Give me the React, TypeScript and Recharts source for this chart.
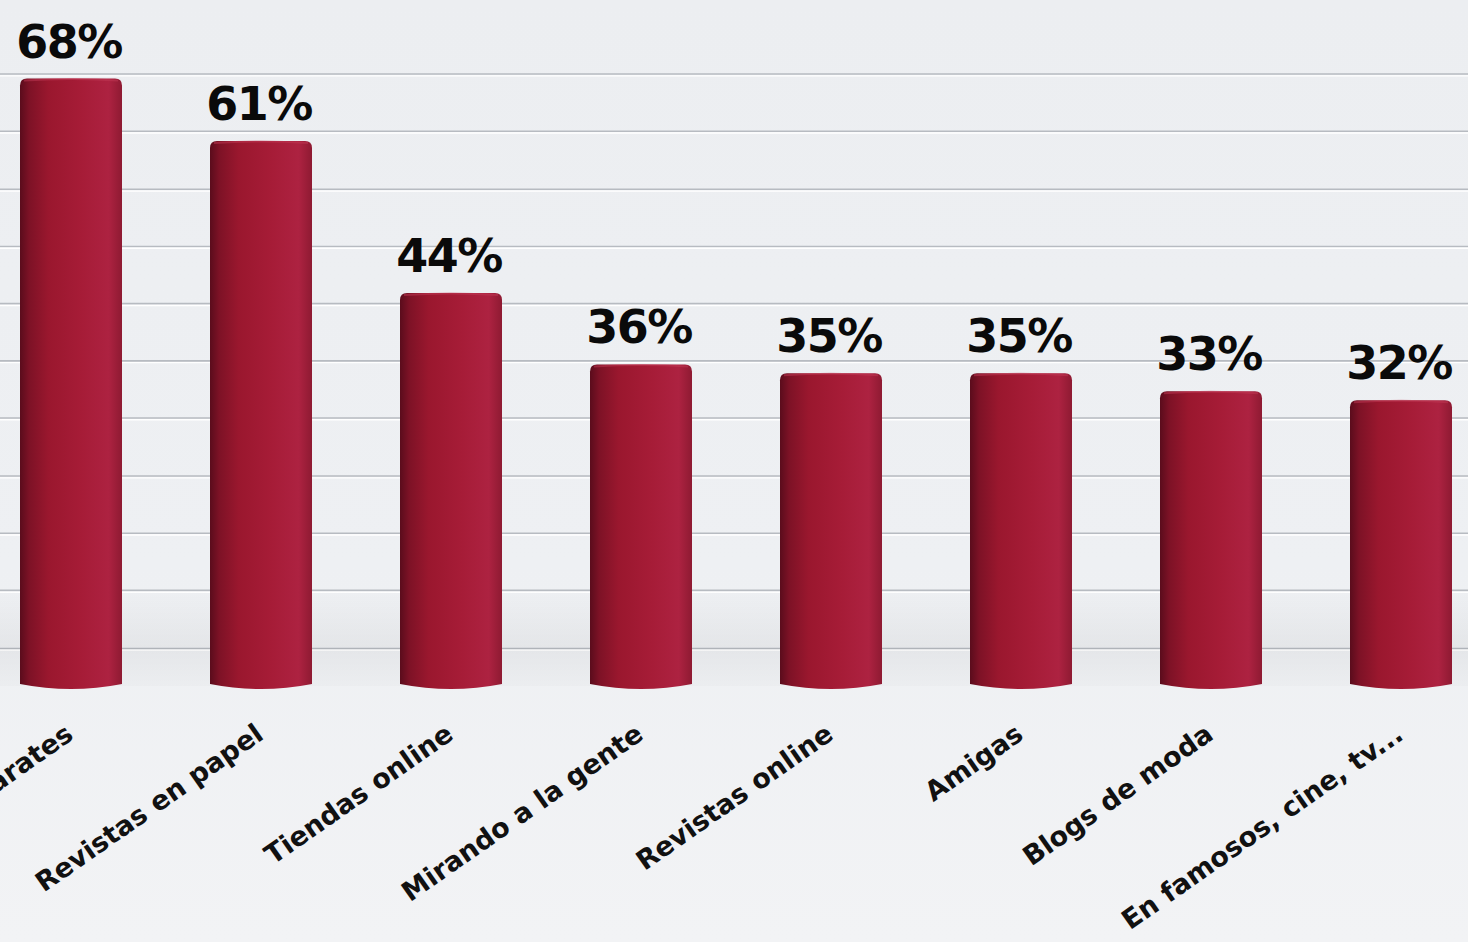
import React from 'react';
import { BarChart, Bar, XAxis, YAxis, CartesianGrid, ReferenceArea, LabelList } from 'recharts';

const categories = [
  'Escaparates',
  'Revistas en papel',
  'Tiendas online',
  'Mirando a la gente',
  'Revistas online',
  'Amigas',
  'Blogs de moda',
  'En famosos, cine, tv...',
];
const percentages = [68, 61, 44, 36, 35, 35, 33, 32];
const gridTicks = [4.2, 10.7, 17.1, 23.5, 30, 36.4, 42.8, 49.2, 55.6, 62.1, 68.5];

const data = categories.map((name, i) => ({ name, value: percentages[i] }));

const FONT = "'DejaVu Sans', 'Noto Sans', sans-serif";

// cylinder-ish bar: flat top with rounded shoulders, curved bottom
const CylinderBar = (props: any) => {
  const { x, y, width, height } = props;
  if (!height || height <= 0) return null;
  const r = 7;
  const b = y + height;
  const d = `M${x},${y + r} Q${x},${y} ${x + r},${y} L${x + width - r},${y} Q${x + width},${y} ${x + width},${y + r}
    L${x + width},${b - 2} Q${x + width / 2},${b + 8} ${x},${b - 2} Z`;
  return (
    <g>
      <path d={d} fill="url(#barGrad)" />
      <path
        d={`M${x + 4},${y + 2} Q${x + width / 2},${y - 1} ${x + width - 4},${y + 2}`}
        stroke="#c23a55"
        strokeOpacity={0.5}
        strokeWidth={2}
        fill="none"
      />
    </g>
  );
};

const CategoryTick = (props: any) => {
  const { x, y, payload } = props;
  const ax = x + 4;
  const ay = y + 44;
  return (
    <text
      x={ax}
      y={ay}
      textAnchor="end"
      transform={`rotate(-35, ${ax}, ${ay})`}
      fontFamily={FONT}
      fontWeight={700}
      fontSize={27}
      fill="#111"
    >
      {payload.value}
    </text>
  );
};

const ValueLabel = (props: any) => {
  const { x, y, width, value } = props;
  return (
    <text
      x={x + width / 2 - 2}
      y={y - 21}
      textAnchor="middle"
      fontFamily={FONT}
      fontWeight={700}
      fontSize={46}
      letterSpacing={-1.5}
      fill="#0a0a0a"
    >
      {value}%
    </text>
  );
};

// grey rule with a thin white highlight underneath; skip the plot's own edges
const GridLine = (props: any) => {
  const { x1, x2, y1, y, height } = props;
  if (y !== undefined && height !== undefined) {
    if (Math.abs(y1 - y) < 1 || Math.abs(y1 - (y + height)) < 1) return <g />;
  }
  return (
    <g>
      <line x1={x1} x2={x2} y1={y1} y2={y1} stroke="#b7bbc1" strokeWidth={1.6} />
      <line x1={x1} x2={x2} y1={y1 + 1.8} y2={y1 + 1.8} stroke="#ffffff" strokeWidth={1.4} />
    </g>
  );
};

export default function App() {
  return (
    <div
      style={{
        position: 'absolute',
        left: 0,
        top: 0,
        width: 1468,
        height: 942,
        overflow: 'hidden',
        background: 'linear-gradient(180deg, #eceef1 0%, #eef0f3 60%, #f2f3f5 100%)',
      }}
    >
      <div style={{ position: 'absolute', left: -24, top: 0 }}>
        <BarChart
          width={1544}
          height={942}
          data={data}
          barSize={102}
          margin={{ top: 16, right: 24, left: 0, bottom: 0 }}
        >
          <defs>
            <linearGradient id="barGrad" x1="0" y1="0" x2="1" y2="0">
              <stop offset="0%" stopColor="#5a0c1c" />
              <stop offset="9%" stopColor="#7d1226" />
              <stop offset="28%" stopColor="#9a172e" />
              <stop offset="60%" stopColor="#a61c37" />
              <stop offset="87%" stopColor="#ad2241" />
              <stop offset="100%" stopColor="#8e1a32" />
            </linearGradient>
            <linearGradient id="shade" x1="0" y1="0" x2="0" y2="1">
              <stop offset="0%" stopColor="#000" stopOpacity={0} />
              <stop offset="60%" stopColor="#000" stopOpacity={0.045} />
              <stop offset="100%" stopColor="#000" stopOpacity={0.015} />
            </linearGradient>
          </defs>
          <CartesianGrid
            vertical={false}
            horizontalValues={gridTicks}
            horizontal={(p: any) => <GridLine key={`g-${p.index}`} {...p} />}
          />
          <XAxis
            dataKey="name"
            axisLine={false}
            tickLine={false}
            interval={0}
            height={256}
            tick={<CategoryTick />}
          />
          <YAxis hide domain={[0, 75]} ticks={gridTicks} />
          <ReferenceArea y1={0} y2={11} fill="url(#shade)" fillOpacity={1} stroke="none" ifOverflow="visible" />
          <Bar dataKey="value" isAnimationActive={false} shape={<CylinderBar />}>
            <LabelList dataKey="value" content={<ValueLabel />} />
          </Bar>
        </BarChart>
      </div>
    </div>
  );
}
